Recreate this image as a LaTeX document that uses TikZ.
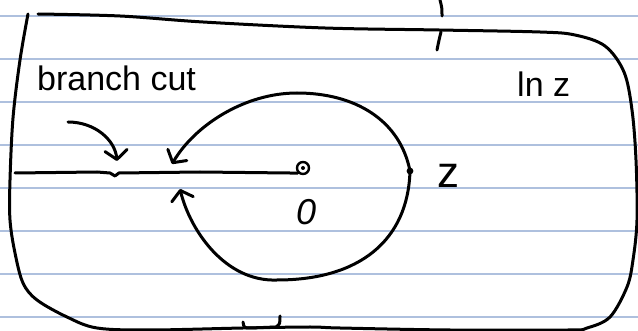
\documentclass[tikz,border=0pt]{standalone}
\usepackage{fontspec}
\setmainfont{Liberation Sans}
\usetikzlibrary{arrows.meta}
\definecolor{ruled}{RGB}{174,192,222}
\tikzset{
  ink/.style={line width=3pt, line cap=round, line join=round, black},
  barb/.style={-{Straight Barb[length=9pt,width=22pt,round]}},
  ruleline/.style={line width=1.4pt, ruled},
  hand/.style={inner sep=0pt, font=\fontsize{34}{38}\selectfont},
}
\begin{document}
\begin{tikzpicture}[x=1pt,y=-1pt]
\useasboundingbox (0,0) rectangle (638,331);
% ruled paper
\foreach \yy in {16,59,102,145,188,231,274,317}
  \draw[ruleline] (0,\yy) -- (638,\yy);
% outer region
\draw[ink] plot[smooth, tension=0.55] coordinates {
  (38,14) (120,16) (203,22) (325,28) (439,30) (540,32) (575,35) (605,46)
  (624,72) (632,110) (636,160) (637,220) (633,260) (627,287) (610,317)
  (587,328) (568,330) (450,330) (340,328) (310,327) (243,328) (150,330)
  (97,328) (67,317) (37,300) (23,283) (15,253) (10,220) (10,180) (13,118)
  (20,60) (28,14)};
% tick marks on the boundary
\draw[ink] (440,0) .. controls (442,8) .. (442,16);
\draw[ink] (441,32) .. controls (439,40) .. (437,50);
\draw[ink] (243,322) .. controls (244,328) .. (251,328) -- (276,327) .. controls (280,324) .. (280,316);
% labels
\node[hand, anchor=base west] (bc) at (37,91) {branch cut};
\node[hand, anchor=base west] (lnz) at (517,97) {ln z};
\node[inner sep=0pt, anchor=base west, font=\fontsize{44}{48}\selectfont] (zl) at (437,188) {z};
\node[inner sep=0pt, anchor=base west, font=\fontsize{36}{40}\selectfont\itshape] (zero) at (296,225) {0};
% origin
\node[draw, circle, line width=2.4pt, minimum size=12pt, inner sep=0pt] (o) at (303,168) {};
\fill (o.center) circle (2pt);
% branch cut line
\coordinate (bl) at (15,173);
\draw[ink] (bl) -- (97,172) -- (110,173) -- (115,176) -- (119,173) -- (200,172) -- (o.south west);
% point z
\coordinate (z) at (410,171);
\fill (z) circle (3.4pt);
% loops around the origin
\coordinate (tipA) at (172,164);
\coordinate (tipB) at (180,189);
\draw[ink, barb] (z) .. controls (400,120) and (355,93) .. (297,93)
  .. controls (245,93) and (195,125) .. (tipA);
\draw[ink, barb] (z) .. controls (408,240) and (360,280) .. (277,280)
  .. controls (225,282) and (190,230) .. (tipB);
% pointer to the branch cut
\coordinate (ps) at (68,122);
\coordinate (pt) at (117,161);
\draw[ink, barb] (ps) .. controls (95,122) and (115,140) .. (pt);
\end{tikzpicture}
\end{document}
